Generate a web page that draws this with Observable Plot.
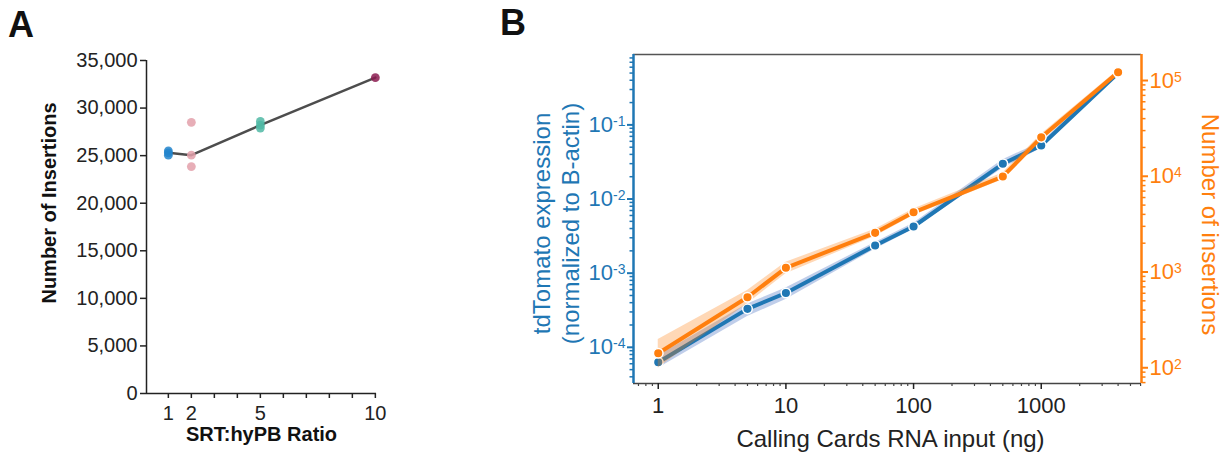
<!DOCTYPE html>
<html>
<head>
<meta charset="utf-8">
<script src="https://cdn.jsdelivr.net/npm/d3@7"></script>
<script src="https://cdn.jsdelivr.net/npm/@observablehq/plot@0.6"></script>
<style>
  body { margin: 0; background: #fff; font-family: "Liberation Sans", Arial, sans-serif; }
  #root { position: relative; width: 1229px; height: 452px; overflow: hidden; background: #fff; }
  .panel-letter { position: absolute; font-weight: bold; font-size: 36px; line-height: 36px; color: #111; }
</style>
</head>
<body>
<div id="root">
  <div class="panel-letter" style="left:8px;top:7px">A</div>
  <div class="panel-letter" style="left:500px;top:5px">B</div>
</div>
<script>
// ---------- Panel A data ----------
const ratios = [1, 2, 5, 10];
const ratioColors = ["#2385cc", "#e3a0aa", "#50b9a5", "#8b1b50"];
const insertionsRatio1 = [25500, 25300, 25050];
const insertionsRatio2 = [28500, 25050, 23850];
const insertionsRatio5 = [28600, 28200, 27900];
const insertionsRatio10 = [33200];
const yTicksA = [0, 5000, 10000, 15000, 20000, 25000, 30000, 35000];
const xTicksA = [1, 2, 3, 4, 5, 6, 7, 8, 9, 10];
const xLabelsA = [1, 2, 5, 10];

// ---------- Panel B data ----------
const rnaInput = [1, 5, 10, 50, 100, 500, 1000, 4000];
const tdTomato = [6.3e-5, 3.3e-4, 5.4e-4, 2.36e-3, 4.26e-3, 0.0299, 0.0527, 0.50];
const tdTomatoLo = [5.2e-5, 2.6e-4, 4.4e-4, 2.1e-3, 3.9e-3, 0.026, 0.048, 0.47];
const tdTomatoHi = [7.7e-5, 3.85e-4, 6.3e-4, 2.6e-3, 4.7e-3, 0.034, 0.058, 0.53];
const insertionsB = [142, 545, 1107, 2565, 4207, 9940, 25500, 121900];
const insertionsBLo = [100, 466, 957, 2350, 3900, 9200, 23500, 116000];
const insertionsBHi = [197, 641, 1265, 2800, 4550, 10800, 27500, 128000];
const xTicksB = [1, 10, 100, 1000];
const leftTicksB = [1e-4, 1e-3, 1e-2, 1e-1];
const rightTicksB = [1e2, 1e3, 1e4, 1e5];

const FONT = "'Liberation Sans', Arial, Helvetica, sans-serif";
const BLUE = "#1f77b4";
const ORANGE = "#ff7f0e";
const root = document.getElementById("root");

// ---------- Panel A ----------
const insertionsByRatio = [insertionsRatio1, insertionsRatio2, insertionsRatio5, insertionsRatio10];
const panelA = ratios.flatMap((r, i) => insertionsByRatio[i].map(v => ({ratio: r, insertions: v, group: String(r)})));
const xA = [0.05, 10.05];
const yA = [0, 35000];

const plotA = Plot.plot({
  width: 430, height: 452,
  marginLeft: 146, marginRight: 54, marginTop: 60, marginBottom: 59,
  style: {position: "absolute", left: "0px", top: "0px", background: "transparent", fontFamily: FONT, overflow: "visible", maxWidth: "none"},
  x: {domain: xA},
  y: {domain: yA},
  color: {domain: ratios.map(String), range: ratioColors},
  marks: [
    Plot.axisY(yTicksA, {tickSize: 6, tickPadding: 3, fontSize: 20, tickFormat: d3.format(","), color: "#222", strokeWidth: 1.5, label: null}),
    Plot.axisX(xTicksA, {tickSize: 5, tickPadding: 7, fontSize: 20, tickFormat: d => xLabelsA.includes(d) ? String(d) : "", color: "#222", strokeWidth: 1.5, label: null}),
    Plot.ruleX([xA[0]], {y1: yA[0], y2: yA[1], stroke: "#222", strokeWidth: 1.5}),
    Plot.ruleY([yA[0]], {stroke: "#222", strokeWidth: 1.5}),
    Plot.lineY(panelA, Plot.groupX({y: "median"}, {x: "ratio", y: "insertions", stroke: "#4d4d4d", strokeWidth: 2.5})),
    Plot.dot(panelA, {x: "ratio", y: "insertions", fill: "group", r: 4.4, fillOpacity: 0.85}),
    Plot.text(["Number of Insertions"], {frameAnchor: "left", textAnchor: "middle", lineAnchor: "middle", rotate: -90, dx: -97, dy: -24, fontSize: 20, fontWeight: "bold", fill: "#111"}),
    Plot.text(["SRT:hyPB Ratio"], {frameAnchor: "bottom", textAnchor: "middle", lineAnchor: "middle", dy: 41, fontSize: 20, fontWeight: "bold", fill: "#111"})
  ]
});
root.appendChild(plotA);

// ---------- Panel B ----------
const xB = [0.64, 6100];
const yLeft = [3.25e-5, 0.89];
const yRight = [68.5, 1.87e5];
const isPow10 = d => Math.abs(Math.log10(d) - Math.round(Math.log10(d))) < 1e-9;
const minorX = d3.scaleLog().domain(xB).ticks().filter(d => !isPow10(d));
const minorLeft = d3.scaleLog().domain(yLeft).ticks().filter(d => !isPow10(d));
const minorRight = d3.scaleLog().domain(yRight).ticks().filter(d => !isPow10(d));
const supFormat = d => "10^" + Math.round(Math.log10(d));

const blueData = rnaInput.map((x, i) => ({x, y: tdTomato[i], lo: tdTomatoLo[i], hi: tdTomatoHi[i]}));
const orangeData = rnaInput.map((x, i) => ({x, y: insertionsB[i], lo: insertionsBLo[i], hi: insertionsBHi[i]}));

const common = {
  width: 749, height: 452,
  marginLeft: 153, marginRight: 88, marginTop: 54, marginBottom: 69
};

const plotBLeft = Plot.plot({
  ...common,
  style: {position: "absolute", left: "480px", top: "0px", background: "transparent", fontFamily: FONT, overflow: "visible", maxWidth: "none"},
  x: {type: "log", domain: xB},
  y: {type: "log", domain: yLeft},
  marks: [
    Plot.ruleY([yLeft[1]], {stroke: "#555", strokeWidth: 1.5}),
    Plot.ruleY([yLeft[0]], {stroke: "#444", strokeWidth: 1.5}),
    Plot.axisX(minorX, {tickSize: 3, stroke: "#444", fill: "none", strokeWidth: 1.2, label: null}),
    Plot.axisX(xTicksB, {tickSize: 6, tickPadding: 8, fontSize: 22, tickFormat: d => String(d), color: "#222", strokeWidth: 1.5, label: null}),
    Plot.axisY(minorLeft, {tickSize: 3.5, stroke: BLUE, fill: "none", strokeWidth: 1.5, label: null}),
    Plot.axisY(leftTicksB, {tickSize: 6, tickPadding: 2, fontSize: 22, tickFormat: supFormat, color: BLUE, strokeWidth: 2, label: null}),
    Plot.ruleX([xB[0]], {stroke: BLUE, strokeWidth: 2.5}),
    Plot.areaY(blueData, {x: "x", y1: "lo", y2: "hi", fill: "#4a74c4", fillOpacity: 0.35}),
    Plot.line(blueData, {x: "x", y: "y", stroke: BLUE, strokeWidth: 4}),
    Plot.dot(blueData, {x: "x", y: "y", fill: BLUE, stroke: "white", strokeWidth: 1.5, r: 4.8}),
    Plot.text(["tdTomato expression\n(normalized to B-actin)"], {frameAnchor: "left", textAnchor: "middle", lineAnchor: "middle", lineHeight: 1.2, rotate: -90, dx: -78.5, dy: 4.5, fontSize: 24, fill: BLUE}),
    Plot.text(["Calling Cards RNA input (ng)"], {frameAnchor: "bottom", textAnchor: "middle", lineAnchor: "middle", dy: 56, dx: 3, fontSize: 24, fill: "#222"})
  ]
});
root.appendChild(plotBLeft);

const plotBRight = Plot.plot({
  ...common,
  style: {position: "absolute", left: "480px", top: "0px", background: "transparent", fontFamily: FONT, overflow: "visible", maxWidth: "none"},
  x: {type: "log", domain: xB, axis: null},
  y: {type: "log", domain: yRight},
  marks: [
    Plot.axisY(minorRight, {anchor: "right", tickSize: 3.5, stroke: ORANGE, fill: "none", strokeWidth: 1.5, label: null}),
    Plot.axisY(rightTicksB, {anchor: "right", tickSize: 6, tickPadding: 2, fontSize: 22, tickFormat: supFormat, color: ORANGE, strokeWidth: 2, label: null}),
    Plot.ruleX([xB[1]], {stroke: ORANGE, strokeWidth: 2.5}),
    Plot.areaY(orangeData, {x: "x", y1: "lo", y2: "hi", fill: ORANGE, fillOpacity: 0.3}),
    Plot.line(orangeData, {x: "x", y: "y", stroke: ORANGE, strokeWidth: 4}),
    Plot.dot(orangeData, {x: "x", y: "y", fill: ORANGE, stroke: "white", strokeWidth: 1.5, r: 4.8}),
    Plot.text(["Number of insertions"], {frameAnchor: "right", textAnchor: "middle", lineAnchor: "middle", rotate: 90, dx: 68, dy: 5.5, fontSize: 24, fill: ORANGE})
  ]
});
root.appendChild(plotBRight);

// superscript exponents on log tick labels
function superscriptify(svg) {
  const NS = "http://www.w3.org/2000/svg";
  svg.querySelectorAll("text").forEach(t => {
    const m = /^10\^(-?\d+)$/.exec(t.textContent);
    if (!m) return;
    t.textContent = "";
    const base = document.createElementNS(NS, "tspan");
    base.textContent = "10";
    const sup = document.createElementNS(NS, "tspan");
    sup.textContent = m[1];
    sup.setAttribute("font-size", "14");
    sup.setAttribute("dy", "-6");
    t.append(base, sup);
  });
}
superscriptify(plotBLeft);
superscriptify(plotBRight);
</script>
</body>
</html>
